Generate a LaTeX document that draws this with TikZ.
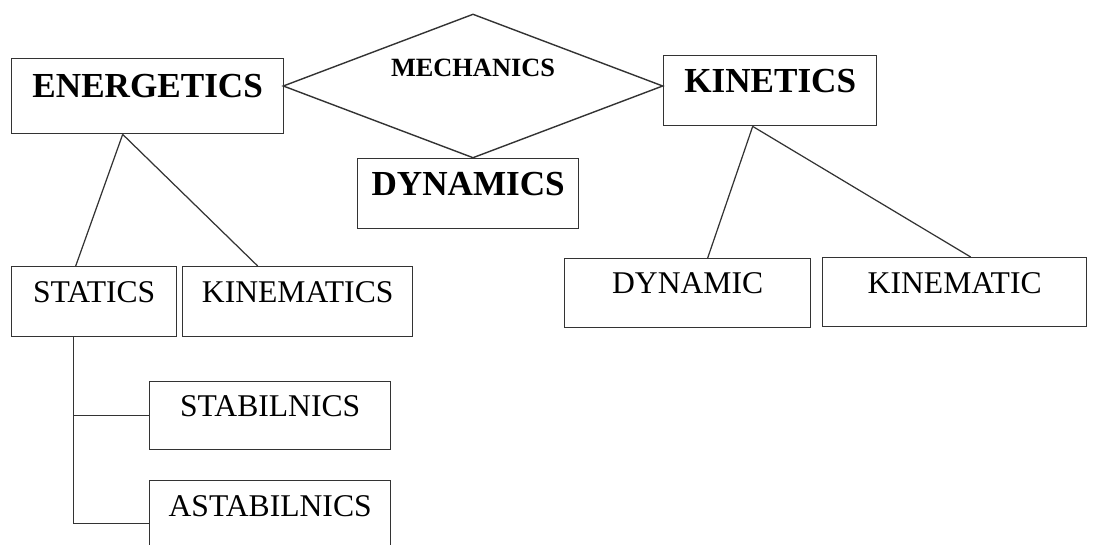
\documentclass[tikz,border=0pt]{standalone}
\usepackage{fontspec}
\setmainfont{Liberation Serif}
\usetikzlibrary{shapes.geometric}

\tikzset{
	box/.style={draw=black!80, line width=0.8pt, inner sep=0pt, anchor=north west},
	titlebox/.style={box, font=\bfseries\fontsize{20}{22}\selectfont},
	subbox/.style={box, font=\fontsize{18}{20}\selectfont},
	link/.style={draw=black!80, line width=0.7pt}
}

\begin{document}
\begin{tikzpicture}[x=0.02cm, y=-0.02cm]
		\useasboundingbox (0,0) rectangle (1094,544);
		\clip (0,0) rectangle (1094,544);
		% top row
		\node[titlebox, minimum width=5.44cm, minimum height=1.5cm, text height=0.78cm, text depth=0.72cm] (energetics) at (11,58) {ENERGETICS};
		\node[titlebox, minimum width=4.26cm, minimum height=1.4cm, text height=0.74cm, text depth=0.66cm] (kinetics) at (663,55) {KINETICS};
		\node[titlebox, minimum width=4.42cm, minimum height=1.4cm, text height=0.74cm, text depth=0.66cm] (dynamics) at (357,158) {DYNAMICS};
		\node[diamond, draw=black!80, line width=0.8pt, inner sep=0pt, aspect=2.64,
			minimum width=7.6cm, minimum height=2.88cm, text height=0.35cm, text depth=0.75cm,
			font=\bfseries\fontsize{15}{17}\selectfont] (mechanics) at (473,86) {MECHANICS};
		% second row
		\node[subbox, minimum width=3.3cm, minimum height=1.4cm, text height=0.72cm, text depth=0.68cm] (statics) at (11,266) {STATICS};
		\node[subbox, minimum width=4.6cm, minimum height=1.4cm, text height=0.72cm, text depth=0.68cm] (kinematics) at (182,266) {KINEMATICS};
		\node[subbox, minimum width=4.92cm, minimum height=1.38cm, text height=0.70cm, text depth=0.68cm] (dynamic) at (564,258) {DYNAMIC};
		\node[subbox, minimum width=5.28cm, minimum height=1.38cm, text height=0.72cm, text depth=0.66cm] (kinematic) at (822,257) {KINEMATIC};
		% under statics
		\node[subbox, minimum width=4.82cm, minimum height=1.36cm, text height=0.70cm, text depth=0.66cm] (stabilnics) at (149,381) {STABILNICS};
		\node[subbox, minimum width=4.82cm, minimum height=1.72cm, text height=0.72cm, text depth=1.0cm] (astabilnics) at (149,480) {ASTABILNICS};
		% connectors
		\coordinate (eb) at ([xshift=-0.5cm]energetics.south);
		\coordinate (kb) at ([xshift=-0.35cm]kinetics.south);
		\coordinate (sb) at ([xshift=-0.41cm]statics.south);
		\draw[link] (eb) -- ([xshift=-0.37cm]statics.north);
		\draw[link] (eb) -- ([xshift=-0.8cm]kinematics.north);
		\draw[link] (kb) -- ([xshift=0.4cm]dynamic.north);
		\draw[link] (kb) -- ([xshift=0.32cm]kinematic.north);
		\draw[link] (sb) |- (astabilnics.west);
		\draw[link] (sb |- stabilnics.west) -- (stabilnics.west);
\end{tikzpicture}
\end{document}
